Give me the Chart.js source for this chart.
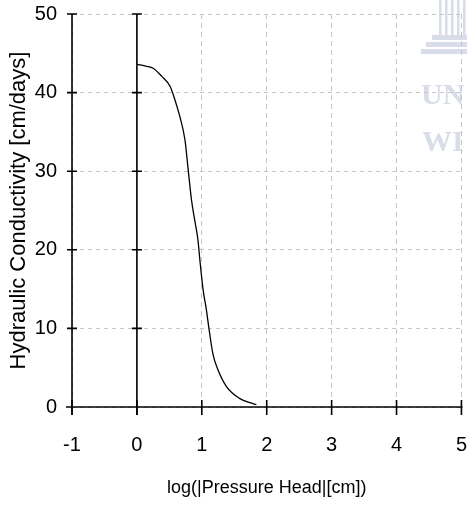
<!DOCTYPE html>
<html>
<head>
<meta charset="utf-8">
<script src="https://cdn.jsdelivr.net/npm/chart.js@4.4.1/dist/chart.umd.min.js"></script>
<style>
  html, body { margin: 0; padding: 0; background: #ffffff; }
  #wrap { width: 467px; height: 507px; position: relative; }
</style>
</head>
<body>
<div id="wrap"><canvas id="c"></canvas></div>
<script>
// log10(|pressure head| [cm])
const logHead = [0, 0.15, 0.25, 0.38, 0.51, 0.585, 0.66, 0.74, 0.79, 0.84, 0.89, 0.94, 0.97, 1.02, 1.07, 1.11, 1.17, 1.25, 1.38, 1.58, 1.74, 1.84];
// hydraulic conductivity [cm/days]
const conductivity = [43.6, 43.35, 43.1, 42.1, 40.8, 39.1, 37.0, 34.0, 30.2, 26.4, 23.8, 21.3, 18.7, 14.9, 12.4, 10.0, 6.8, 4.7, 2.6, 1.1, 0.55, 0.3];
const xTicks = [-1, 0, 1, 2, 3, 4, 5];
const yTicks = [0, 10, 20, 30, 40, 50];
const xTitle = 'log(|Pressure Head|[cm])';
const yTitle = 'Hydraulic Conductivity [cm/days]';

const SANS = "'Liberation Sans', Arial, sans-serif";

const watermark = {
  id: 'watermark',
  beforeDraw(chart) {
    const ctx = chart.ctx;
    ctx.save();
    ctx.fillStyle = '#d9dce9';
    // stylised columns of the watermark logo
    [439, 445, 451, 457, 463].forEach(x => ctx.fillRect(x, 0, 2.5, 35));
    ctx.fillRect(432, 35, 35, 5);
    ctx.fillRect(426, 42, 41, 5);
    ctx.fillRect(421, 49, 46, 5);
    ctx.font = "bold 30px 'Liberation Serif', 'DejaVu Serif', serif";
    ctx.textBaseline = 'alphabetic';
    ctx.fillText('UN', 421, 104);
    ctx.fillText('WI', 422, 151);
    ctx.restore();
  }
};

const axesPlugin = {
  id: 'axesPlugin',
  beforeDatasetsDraw(chart) {
    const ctx = chart.ctx;
    const xs = chart.scales.x, ys = chart.scales.y;
    const a = chart.chartArea;
    const x0 = xs.getPixelForValue(0);
    const xl = xs.getPixelForValue(xs.min);
    const yb = ys.getPixelForValue(0);
    ctx.save();
    ctx.strokeStyle = '#000';
    ctx.lineWidth = 1.6;
    ctx.beginPath();
    ctx.moveTo(x0, a.top); ctx.lineTo(x0, yb + 8);
    ctx.moveTo(xl, a.top); ctx.lineTo(xl, yb + 8);
    ctx.moveTo(xl - 6, yb); ctx.lineTo(a.right + 1, yb);
    ctx.stroke();
    ctx.beginPath();
    ys.ticks.forEach(t => {
      if (t.value === 0) return;
      const p = ys.getPixelForValue(t.value);
      ctx.moveTo(xl - 5, p); ctx.lineTo(xl + 5, p);
      ctx.moveTo(x0 - 5, p); ctx.lineTo(x0 + 5, p);
    });
    xs.ticks.forEach(t => {
      const p = xs.getPixelForValue(t.value);
      ctx.moveTo(p, yb - 7); ctx.lineTo(p, yb + 8);
    });
    ctx.stroke();
    ctx.restore();
  }
};

new Chart(document.getElementById('c'), {
  type: 'line',
  data: {
    datasets: [{
      data: logHead.map((x, i) => ({ x: x, y: conductivity[i] })),
      borderColor: '#000000',
      borderWidth: 1.3,
      pointRadius: 0,
      fill: false,
      cubicInterpolationMode: 'monotone'
    }]
  },
  options: {
    responsive: true,
    maintainAspectRatio: false,
    animation: false,
    events: [],
    layout: { padding: { top: 14, right: 0, left: 0, bottom: 0 } },
    plugins: { legend: { display: false }, tooltip: { enabled: false } },
    scales: {
      x: {
        type: 'linear',
        min: -1, max: 5,
        afterBuildTicks(scale) { scale.ticks = xTicks.map(v => ({ value: v })); },
        afterFit(scale) { scale.height = 100; },
        ticks: {
          color: '#000',
          padding: 0,
          maxRotation: 0,
          font: { family: SANS, size: 20 }
        },
        grid: { color: '#c6c6c6', lineWidth: 1, drawTicks: true, tickLength: 26, tickColor: 'rgba(0,0,0,0)' },
        border: { display: false, dash: [5, 4] },
        title: {
          display: true,
          text: xTitle,
          color: '#000',
          font: { family: SANS, size: 18 },
          padding: { top: 0, bottom: 8 }
        }
      },
      y: {
        type: 'linear',
        min: 0, max: 50,
        afterBuildTicks(scale) { scale.ticks = yTicks.map(v => ({ value: v })); },
        afterFit(scale) { scale.width = 72; },
        ticks: {
          color: '#000',
          padding: 1,
          font: { family: SANS, size: 20 }
        },
        grid: { color: '#c6c6c6', lineWidth: 1, drawTicks: true, tickLength: 14, tickColor: 'rgba(0,0,0,0)' },
        border: { display: false, dash: [4, 4] },
        title: {
          display: true,
          text: yTitle,
          color: '#000',
          font: { family: SANS, size: 22 },
          padding: { top: 6, bottom: 0 }
        }
      }
    }
  },
  plugins: [watermark, axesPlugin]
});
</script>
</body>
</html>
